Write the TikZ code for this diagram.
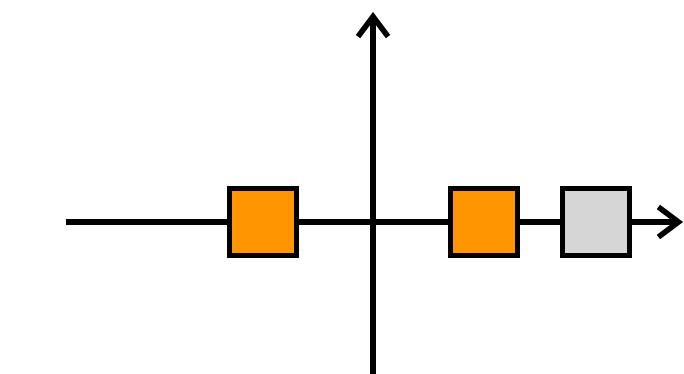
\documentclass[tikz,border=0pt]{standalone}
\usetikzlibrary{arrows.meta}
\definecolor{boxorange}{HTML}{FF9500}
\definecolor{boxgray}{HTML}{D6D6D6}
\begin{document}
\begin{tikzpicture}[x=1pt,y=1pt,
  axis/.style={line width=5.5pt,-{Straight Barb[length=20pt,width=30pt,line width=5.5pt]}},
  cell/.style={draw=black,line width=5.5pt,minimum width=67pt,minimum height=67pt,inner sep=0pt}]
\useasboundingbox (0,0) rectangle (684,373);
% axes
\coordinate (xl) at (66,151);
\coordinate (xr) at (683,151);
\coordinate (yb) at (373,-2);
\coordinate (yt) at (373,361);
\draw[axis] (xl) -- (xr);
\draw[axis] (yb) -- (yt);
% cells on the horizontal axis
\node[cell,fill=boxorange] (a) at (263,151) {};
\node[cell,fill=boxorange] (b) at (484,151) {};
\node[cell,fill=boxgray] (c) at (596,151) {};
\end{tikzpicture}
\end{document}
